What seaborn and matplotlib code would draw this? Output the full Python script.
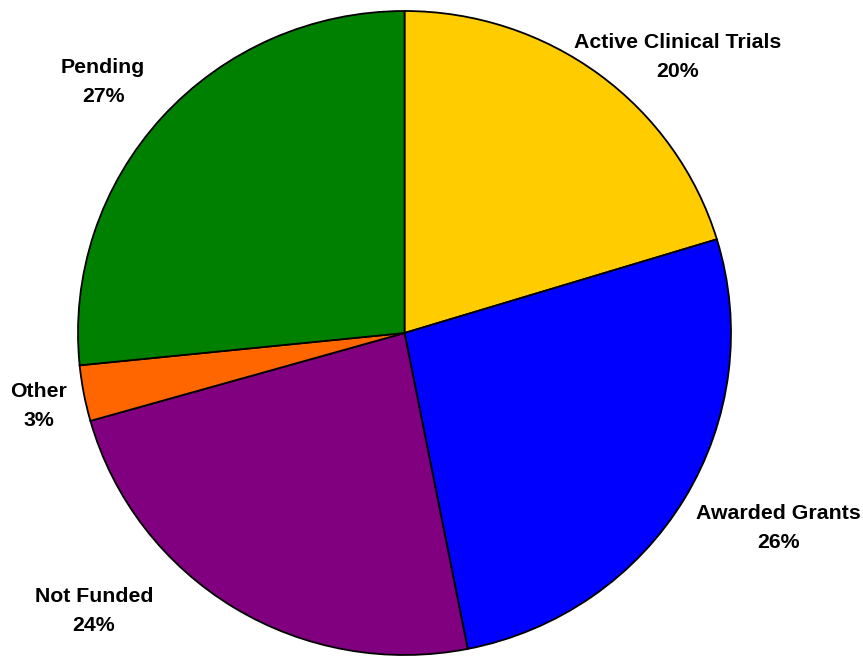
import matplotlib
matplotlib.use('Agg')
import matplotlib.pyplot as plt
import seaborn as sns

# --- Data ---
categories = ['Active Clinical Trials', 'Awarded Grants', 'Not Funded', 'Other', 'Pending']
shares = [20.3, 26.6, 23.7, 2.8, 26.6]
pct_labels = ['20%', '26%', '24%', '3%', '27%']
colors = ['#FFCC00', '#0000FF', '#800080', '#FF6600', '#008000']

# label anchor points in pixels (from top-left of figure)
label_pos = [(678, 57), (778, 528), (94, 611), (39, 406), (103, 82)]

W, H = 863, 657
sns.set_theme(style='white')
plt.rcParams['font.family'] = ['Liberation Sans', 'DejaVu Sans']

fig = plt.figure(figsize=(W / 100, H / 100), dpi=100)
ax = fig.add_axes([78 / W, 2 / H, 653 / W, 644 / H])

ax.pie(shares, colors=colors, startangle=90, counterclock=False,
       wedgeprops={'edgecolor': 'black', 'linewidth': 1.3})
ax.set_aspect('auto')
ax.set_xlim(-1, 1)
ax.set_ylim(-1, 1)
ax.axis('off')

for cat, pct, (px, py) in zip(categories, pct_labels, label_pos):
    fig.text(px / W, 1 - py / H, f"{cat}\n{pct}", ha='center', va='center',
             fontsize=15.3, fontweight='bold', linespacing=1.72, color='black')

fig.savefig('out.png', dpi=100)
